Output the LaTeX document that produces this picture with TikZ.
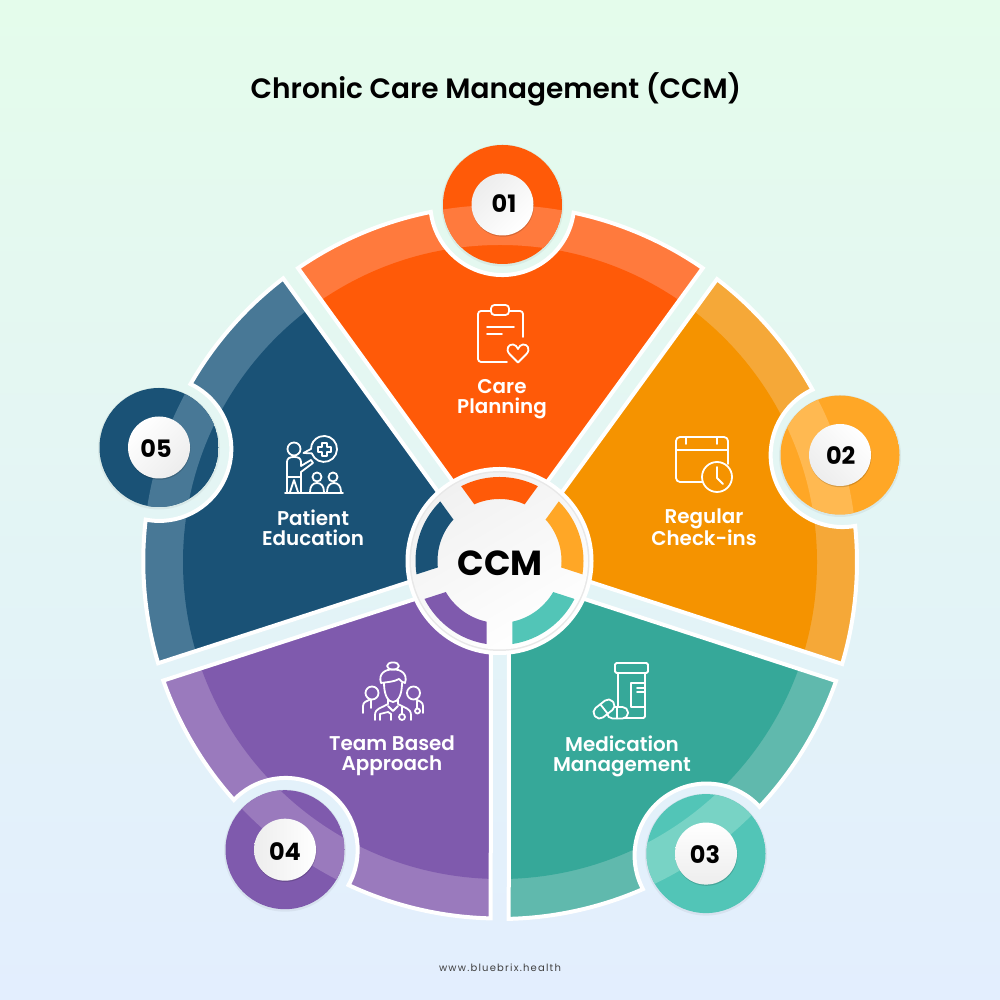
\documentclass[tikz,border=0pt]{standalone}
\usepackage{fontspec}
\setmainfont{Poppins}
\newfontfamily\psemi{Poppins SemiBold}
\newfontfamily\pbold{Poppins Bold}
\newfontfamily\pweb[LetterSpace=12]{Poppins}
\definecolor{bgtop}{HTML}{E4FCEB}
\definecolor{bgmid}{HTML}{E6F7F3}
\definecolor{bgbot}{HTML}{E3EEFE}
\definecolor{gA}{HTML}{EDEDED}\definecolor{gB}{HTML}{FFFFFF}\definecolor{gC}{HTML}{F1F1F1}\definecolor{gE}{HTML}{E8E8E8}
\definecolor{wA}{HTML}{FF5A08}\definecolor{lA}{HTML}{FF7A3D}\definecolor{bA}{HTML}{FF5A08}\definecolor{rA}{HTML}{FF7A3D}
\definecolor{wB}{HTML}{F59300}\definecolor{lB}{HTML}{F5A838}\definecolor{bB}{HTML}{FFA726}\definecolor{rB}{HTML}{FFB951}
\definecolor{wC}{HTML}{36A899}\definecolor{lC}{HTML}{60B9AD}\definecolor{bC}{HTML}{52C5B7}\definecolor{rC}{HTML}{78D3C5}
\definecolor{wD}{HTML}{7F5AAD}\definecolor{lD}{HTML}{9A7ABD}\definecolor{bD}{HTML}{7F5AAD}\definecolor{rD}{HTML}{9A7ABD}
\definecolor{wE}{HTML}{1A5276}\definecolor{lE}{HTML}{487896}\definecolor{bE}{HTML}{1A5276}\definecolor{rE}{HTML}{487896}
\tikzset{
  icon/.style={draw=white,line width=1.8pt,line cap=round,line join=round},
  seglabel/.style={text=white,font=\psemi\fontsize{19.9}{20}\selectfont,align=center,inner sep=0pt},
  numlabel/.style={text=black,font=\pbold\fontsize{24}{24}\selectfont,inner sep=0pt},
}
\newcommand\wedgepath[2]{({#1}:15.3pt) -- ({#1-34.6}:357pt)
  arc[start angle={#1-34.6}, end angle={#2-11.6}, radius=357pt]
  arc[start angle={#2-97.4}, end angle={#2-262.6}, radius=72pt]
  arc[start angle={#2+11.6}, end angle={#1+34.6}, radius=357pt] -- cycle}
\begin{document}
\begin{tikzpicture}[x=1pt,y=1pt]
\useasboundingbox (0,0) rectangle (1000,1000);
\shade[top color=bgtop,middle color=bgmid,bottom color=bgbot] (0,0) rectangle (1000,1000);
% wedges, origin at the hub
\begin{scope}[shift={(500pt,438pt)}]
\foreach \a/\b/\k in {90/89.7/A,18/17.4/B,-54/-54.8/C,-126/-126.6/D,162/161.7/E}{
  \begin{scope}
    \clip \wedgepath{\a}{\b};
    \fill[color=l\k] (0,0) circle[radius=370pt];
    \fill[color=w\k] (0,0) circle[radius=317pt];
  \end{scope}
  \draw[white,line width=4pt,line join=miter] \wedgepath{\a}{\b};
}
\end{scope}
% hub
\begin{scope}[shift={(499.5pt,439pt)}]
  \fill[white] (0,0) circle[radius=94pt];
  \fill[gE] (0,0) circle[radius=90pt];
  \shade[top color=gC,bottom color=gB,shading angle=30] (0,0) circle[radius=88.5pt];
  \foreach \a/\k in {90/A,18/B,-54/C,-126/D,162/E}{
    \begin{scope}
      \clip (\a:22pt) -- ++({\a-36}:200pt) -- ++({\a+90}:235.1pt) -- cycle;
      \fill[color=b\k,even odd rule] (0,0) circle[radius=84pt] circle[radius=62pt];
    \end{scope}
  }
  \node[text=black,font=\pbold\fontsize{34.8}{36}\selectfont,inner sep=0pt] (hub) at (0.5pt,-2.5pt) {CCM};
\end{scope}
% image-coordinate layer
\begin{scope}[x=1pt,y=-1pt,shift={(0pt,1000pt)}]
% badges
\foreach \x/\y/\tx/\ty/\k/\n/\s in {502.5/204.5/504/203.3/A/01/45,840/455/840.7/455.7/B/02/135,706/853.6/705/854.3/C/03/180,285/849.7/285/851.5/D/04/90,159/447.5/156/449/E/05/225}{
  \fill[black,opacity=.05] (\x,\y+1) circle[radius=61pt];
  \begin{scope}
    \clip (\x,\y) circle[radius=59.5pt];
    \fill[color=b\k] (\x,\y) circle[radius=60pt];
    \fill[color=r\k,even odd rule] (500,562) circle[radius=357pt] circle[radius=317pt];
  \end{scope}
  \fill[black,opacity=.16] (\x+.4,\y+1.2) circle[radius=31pt];
  \shade[top color=gA,bottom color=white,shading angle=\s] (\x,\y) circle[radius=31pt];
  \node[numlabel] (num\n) at (\tx,\ty) {\n};
}
\node[text=black,font=\psemi\fontsize{28}{28}\selectfont,inner sep=0pt] (title) at (496,89) {Chronic Care Management (CCM)};
\node[text=black!75,font=\pweb\fontsize{10}{10}\selectfont,inner sep=0pt] (web) at (500,968) {www.bluebrix.health};
\node[seglabel] (careL) at (502,399) {Care\\Planning};
\node[seglabel] (regL) at (704,527.5) {Regular\\Check-ins};
\node[seglabel] (medL) at (622,756) {Medication\\Management};
\node[seglabel] (teamL) at (392,756) {Team Based\\Approach};
\node[seglabel] (patL) at (313,527.5) {Patient\\Education};
% clipboard
\draw[icon,rounded corners=3pt] (491,311) -- (478,311) -- (478,362) -- (507,362);
\draw[icon,rounded corners=3pt] (509,311) -- (523,311) -- (523,337);
\draw[icon,rounded corners=3.5pt] (491,315) -- (491,305) -- (509,305) -- (509,315) -- cycle;
\draw[icon] (487,327) -- (514,327) (487,334) -- (502,334);
\draw[icon] (518,362.5) -- (509.5,354) .. controls (505,349) and (509,344) .. (513,344.5) .. controls (515,344.5) and (517,346.5) .. (518,349) .. controls (519,346.5) and (521,344.5) .. (523,344.5) .. controls (527,344) and (531,349) .. (526.5,354) -- cycle;
% calendar
\draw[icon,rounded corners=4pt] (702,482) -- (676,482) -- (676,437) -- (728,437) -- (728,464);
\draw[icon] (676,450) -- (728,450) (686,437) -- (686,444) (717,437) -- (717,444);
\draw[icon,fill=wB] (717,477) circle[radius=15pt];
\draw[icon] (717,467) -- (717,478) -- (723,484);
% bottle
\draw[icon,rounded corners=1.5pt] (615,663) rectangle (648,673);
\draw[icon,rounded corners=1.5pt] (618,673) -- (618,718) -- (645,718) -- (645,673);
\draw[icon] (645,683) -- (631,683) -- (631,707) -- (645,707) (637,688) -- (645,688) (637,692) -- (645,692);
\draw[icon,rounded corners=5.5pt,fill=wC] (607,707) rectangle (628,718.5);
\draw[icon] (617,707) -- (617,718.5);
\draw[icon,fill=wC,rounded corners=5.5pt,rotate around={38:(604,709)}] (592.5,703) rectangle (615.5,715);
\draw[icon,rotate around={38:(604,709)}] (604,703) -- (604,715);
% team
\draw[icon] (393,666) ellipse[x radius=6pt,y radius=3.6pt];
\draw[icon] (381,683) .. controls (378,674) and (385,669) .. (393,669.5) .. controls (401,669) and (408,674) .. (405,683) .. controls (403,683) and (401,681) .. (399,679) .. controls (394,682) and (387,682) .. (381,683) -- cycle;
\draw[icon] (384,683) .. controls (384,695) and (388,702) .. (393,702) .. controls (398,702) and (402,695) .. (402,683);
\draw[icon] (375,720) -- (375,715) .. controls (375,708) and (382,708) .. (388,704) -- (388,699);
\draw[icon] (411,720) -- (411,715) .. controls (411,708) and (404,708) .. (398,704) -- (398,699);
\draw[icon] (388,706) -- (393,711) -- (398,706);
\draw[icon] (380,720) -- (380,714) -- (388,712) -- (391,714) -- (391,720);
\draw[icon] (402,707) -- (402,714) (402,717) circle[radius=3pt];
\draw[icon] (372,693) circle[radius=6.5pt] (413.5,693) circle[radius=6.5pt];
\draw[icon] (363,713) -- (363,706) .. controls (363,702) and (367,701) .. (370,699.5);
\draw[icon] (423,713) -- (423,706) .. controls (423,702) and (419,701) .. (416,699.5);
\draw[icon] (417,701) -- (417,708) (417.5,711) circle[radius=2.5pt];
\draw[icon] (371,700) -- (371,708);
% teacher
\draw[icon] (294,449) circle[radius=6.5pt];
\draw[icon] (287,492) -- (287,462) .. controls (287,458) and (290,457) .. (294,457) .. controls (298,457) and (301,458) .. (301,462) -- (301,466) -- (311,460) -- (313,463) -- (301,472) -- (301,492);
\draw[icon] (287,477) -- (301,477) (290,492) -- (294,480) -- (298,492);
\draw[icon] (285,493) -- (343,493);
\draw[icon] (303.5,453) -- (311.8,453.4) arc[start angle=200,end angle=540,radius=13pt] -- cycle;
\draw[icon,line width=1.6pt] (322,443) -- (327,443) -- (327,447) -- (331,447) -- (331,452) -- (327,452) -- (327,456) -- (322,456) -- (322,452) -- (318,452) -- (318,447) -- (322,447) -- cycle;
\draw[icon] (317,477) circle[radius=4.5pt] (333,477) circle[radius=4.5pt];
\draw[icon] (310,492) .. controls (310,486) and (313,483) .. (317,483) .. controls (321,483) and (324,486) .. (324,492);
\draw[icon] (327,492) .. controls (327,486) and (330,483) .. (334,483) .. controls (338,483) and (341,486) .. (341,492);
\end{scope}
\end{tikzpicture}
\end{document}
